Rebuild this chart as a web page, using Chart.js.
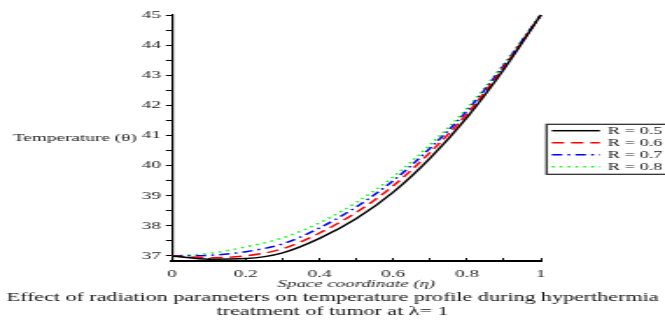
<!DOCTYPE html>
<html>
<head>
<meta charset="utf-8">
<script src="https://cdn.jsdelivr.net/npm/chart.js@4.4.1/dist/chart.umd.min.js"></script>
<style>
  html, body { margin: 0; padding: 0; background: #fff; overflow: hidden; }
  /* the reference figure is stretched horizontally, so draw narrow and stretch */
  #wrap { width: 380px; height: 323px; transform: scaleX(1.75); transform-origin: 0 0; }
</style>
</head>
<body>
<div id="wrap"><canvas id="tempChart"></canvas></div>
<script>
// space coordinate (eta)
const etaValues = [0, 0.1, 0.2, 0.3, 0.4, 0.5, 0.6, 0.7, 0.8, 0.9, 1];

// temperature for each radiation parameter R
const tempR05 = [37, 36.89, 36.91, 37.10, 37.58, 38.24, 39.12, 40.25, 41.60, 43.20, 45];
const tempR06 = [37, 36.94, 37.00, 37.24, 37.76, 38.45, 39.33, 40.44, 41.72, 43.27, 45];
const tempR07 = [37, 37.02, 37.14, 37.40, 37.93, 38.63, 39.50, 40.58, 41.82, 43.33, 45];
const tempR08 = [37, 37.08, 37.30, 37.60, 38.10, 38.78, 39.63, 40.70, 41.90, 43.38, 45];

const seriesLabels = ['R = 0.5', 'R = 0.6', 'R = 0.7', 'R = 0.8'];

// ticks
const xTicks = [0, 0.1, 0.2, 0.3, 0.4, 0.5, 0.6, 0.7, 0.8, 0.9, 1];
const xTickLabels = ['0', '', '0.2', '', '0.4', '', '0.6', '', '0.8', '', '1'];
const yTicks = [37, 37.5, 38, 38.5, 39, 39.5, 40, 40.5, 41, 41.5, 42, 42.5, 43, 43.5, 44, 44.5, 45];

const serif = "'Liberation Serif', 'Times New Roman', serif";

function toPoints(arr) {
    return arr.map((v, i) => ({ x: etaValues[i], y: v }));
}

const styles = [
    { color: '#000000', dash: [] },
    { color: '#ff0000', dash: [7, 4] },
    { color: '#0000ff', dash: [6, 3, 1.5, 3] },
    { color: '#00ff00', dash: [1.5, 3] }
];
const allSeries = [tempR05, tempR06, tempR07, tempR08];

// y label (horizontal) and boxed legend, drawn like the original figure
const extrasPlugin = {
    id: 'extras',
    afterDraw(chart) {
        const ctx = chart.ctx;
        const area = chart.chartArea;
        ctx.save();
        ctx.fillStyle = '#222';
        ctx.font = '11px ' + serif;
        ctx.textAlign = 'left';
        ctx.textBaseline = 'middle';
        ctx.fillText('Temperature (\u03b8)', 7.4, (area.top + area.bottom) / 2);

        // legend box
        const bx = area.right + 3.3, by = 124.3;
        ctx.strokeStyle = '#222';
        ctx.lineWidth = 1.2;
        ctx.strokeRect(bx, by, 80, 50);
        ctx.font = '10.5px ' + serif;
        for (let i = 0; i < seriesLabels.length; i++) {
            const y = 130.7 + i * 12;
            ctx.beginPath();
            ctx.setLineDash(styles[i].dash);
            ctx.strokeStyle = styles[i].color;
            ctx.lineWidth = 1.5;
            ctx.moveTo(bx + 3, y);
            ctx.lineTo(bx + 30.5, y);
            ctx.stroke();
            ctx.setLineDash([]);
            ctx.fillStyle = '#222';
            ctx.fillText(seriesLabels[i], bx + 35, y + 0.5);
        }
        ctx.restore();
    }
};

new Chart(document.getElementById('tempChart'), {
    type: 'line',
    data: {
        datasets: allSeries.map((s, i) => ({
            label: seriesLabels[i],
            data: toPoints(s),
            borderColor: styles[i].color,
            borderDash: styles[i].dash,
            borderWidth: 1.5,
            pointRadius: 0,
            fill: false,
            cubicInterpolationMode: 'monotone',
            clip: false
        }))
    },
    options: {
        responsive: true,
        maintainAspectRatio: false,
        animation: false,
        layout: { padding: { left: 0, right: 0, top: 15, bottom: 4 } },
        plugins: {
            legend: { display: false },
            tooltip: { enabled: false },
            title: {
                display: true,
                position: 'bottom',
                text: ['Effect of radiation parameters on temperature profile during hyperthermia',
                       'treatment of tumor at \u03bb= 1'],
                color: '#111',
                font: { family: serif, size: 12.6, weight: 'normal', lineHeight: 1.11 },
                padding: { top: 0, bottom: 0 }
            }
        },
        scales: {
            x: {
                type: 'linear',
                min: 0,
                max: 1,
                afterBuildTicks: s => { s.ticks = xTicks.map(v => ({ value: v })); },
                afterFit: s => { s.height = 30; },
                ticks: {
                    color: '#222',
                    font: { family: serif, size: 11 },
                    padding: 9,
                    maxRotation: 0,
                    autoSkip: false,
                    callback: (v, i) => xTickLabels[i]
                },
                grid: { drawOnChartArea: false, tickLength: -3, tickColor: '#000' },
                border: { display: true, color: '#000', width: 2 },
                title: {
                    display: true,
                    text: 'Space coordinate (\u03b7)',
                    color: '#222',
                    font: { family: serif, size: 10.8, style: 'italic' },
                    padding: 0
                }
            },
            y: {
                min: 36.83,
                max: 45,
                afterBuildTicks: s => { s.ticks = yTicks.map(v => ({ value: v })); },
                afterFit: s => { s.width = 98.3; },
                ticks: {
                    color: '#222',
                    font: { family: serif, size: 11 },
                    padding: 2.8,
                    autoSkip: false,
                    callback: v => Number.isInteger(v) ? String(v) : ''
                },
                grid: { drawOnChartArea: false, tickLength: 3.5, tickColor: '#000' },
                border: { display: true, color: '#000', width: 1.2 }
            },
            // empty right-hand axis that only reserves the room used by the legend box
            yRight: {
                position: 'right',
                min: 36.83,
                max: 45,
                afterFit: s => { s.width = 71; },
                ticks: { display: false },
                grid: { display: false },
                border: { display: false }
            }
        }
    },
    plugins: [extrasPlugin]
});
</script>
</body>
</html>
